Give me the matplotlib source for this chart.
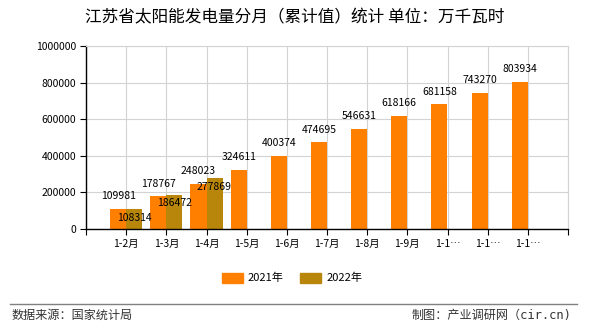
import matplotlib.pyplot as plt
import numpy as np
from matplotlib.patches import Rectangle

plt.rcParams["font.family"] = ["Noto Sans CJK SC", "DejaVu Sans"]

# ----------------------------------------------------------------- data
TITLE = "江苏省太阳能发电量分月（累计值）统计 单位：万千瓦时"
MONTHS = ["1-2月", "1-3月", "1-4月", "1-5月", "1-6月", "1-7月",
          "1-8月", "1-9月", "1-10月", "1-11月", "1-12月"]
VALS_2021 = [109981, 178767, 248023, 324611, 400374, 474695,
             546631, 618166, 681158, 743270, 803934]
VALS_2022 = [108314, 186472, 277869]
SERIES = ["2021年", "2022年"]
COLORS = ["#ff8000", "#b8860b"]
Y_TICKS = [0, 200000, 400000, 600000, 800000, 1000000]


def short(label, n=3):
    """Long category names get clipped like the original renderer does."""
    return label if len(label) <= n + 1 else label[:n] + "…"


# ----------------------------------------------------------------- plot
fig = plt.figure(figsize=(5.9, 3.3), dpi=100)
ax = fig.add_axes([86 / 590, 1 - 229 / 330, (568 - 86) / 590, (229 - 46) / 330])

x = np.arange(len(MONTHS))
w = 0.4
ax.bar(x[: len(VALS_2021)] - w / 2, VALS_2021, width=w, color=COLORS[0], zorder=2)
ax.bar(x[: len(VALS_2022)] + w / 2, VALS_2022, width=w, color=COLORS[1], zorder=2)

# value labels: 2021 above the bar top, 2022 just inside it
for xi, v in zip(x, VALS_2021):
    ax.annotate(str(v), (xi - w / 2, v), xytext=(0, 12.5 * 0.72), textcoords="offset points",
                ha="center", va="center", fontsize=7.5, zorder=4)
for xi, v in zip(x, VALS_2022):
    ax.annotate(str(v), (xi + w / 2, v), xytext=(0, -8.5 * 0.72), textcoords="offset points",
                ha="center", va="center", fontsize=7.5, zorder=4)

ax.set_xlim(-1, len(MONTHS))
ax.set_ylim(0, 1000000)
ax.set_xticks(np.arange(-1, len(MONTHS) + 1))
ax.set_xticklabels([""] + [short(m) for m in MONTHS] + [""], fontsize=7.5)
ax.set_yticks(Y_TICKS)
ax.set_yticklabels([str(t) for t in Y_TICKS], fontsize=7.5)
ax.tick_params(axis="both", direction="out", length=4.5, width=0.8, pad=2.5, colors="black")
ax.grid(True, color="#d3d3d3", lw=0.8, zorder=0)
ax.set_axisbelow(True)
for side in ("top", "right"):
    ax.spines[side].set_color("#d3d3d3")
for side in ("left", "bottom"):
    ax.spines[side].set_color("black")
    ax.spines[side].set_linewidth(1.0)

fig.text(0.5, 1 - 18 / 330, TITLE, ha="center", va="center", fontsize=12, weight="medium")

# legend drawn by hand in figure pixels to match the original spacing
for (px, tx), name, c in zip([(222, 248), (300, 327)], SERIES, COLORS):
    fig.patches.append(Rectangle((px / 590, 1 - 283 / 330), 21 / 590, 10 / 330,
                                 transform=fig.transFigure, color=c))
    fig.text(tx / 590, 1 - 278 / 330, name, ha="left", va="center", fontsize=8)

fig.add_artist(plt.Line2D([10 / 590, 577 / 590], [1 - 303.5 / 330] * 2,
                          transform=fig.transFigure, color="#808080", lw=1))
fig.text(12 / 590, 1 - 315.5 / 330, "数据来源：国家统计局", ha="left", va="center",
         fontsize=8.7, color="#333333")
fig.text(571 / 590, 1 - 315.5 / 330, "制图：产业调研网（cir.cn)", ha="right", va="center",
         fontsize=8.7, color="#333333", family=["DejaVu Sans Mono", "Noto Sans CJK SC"])

fig.savefig("out.png", dpi=100)
